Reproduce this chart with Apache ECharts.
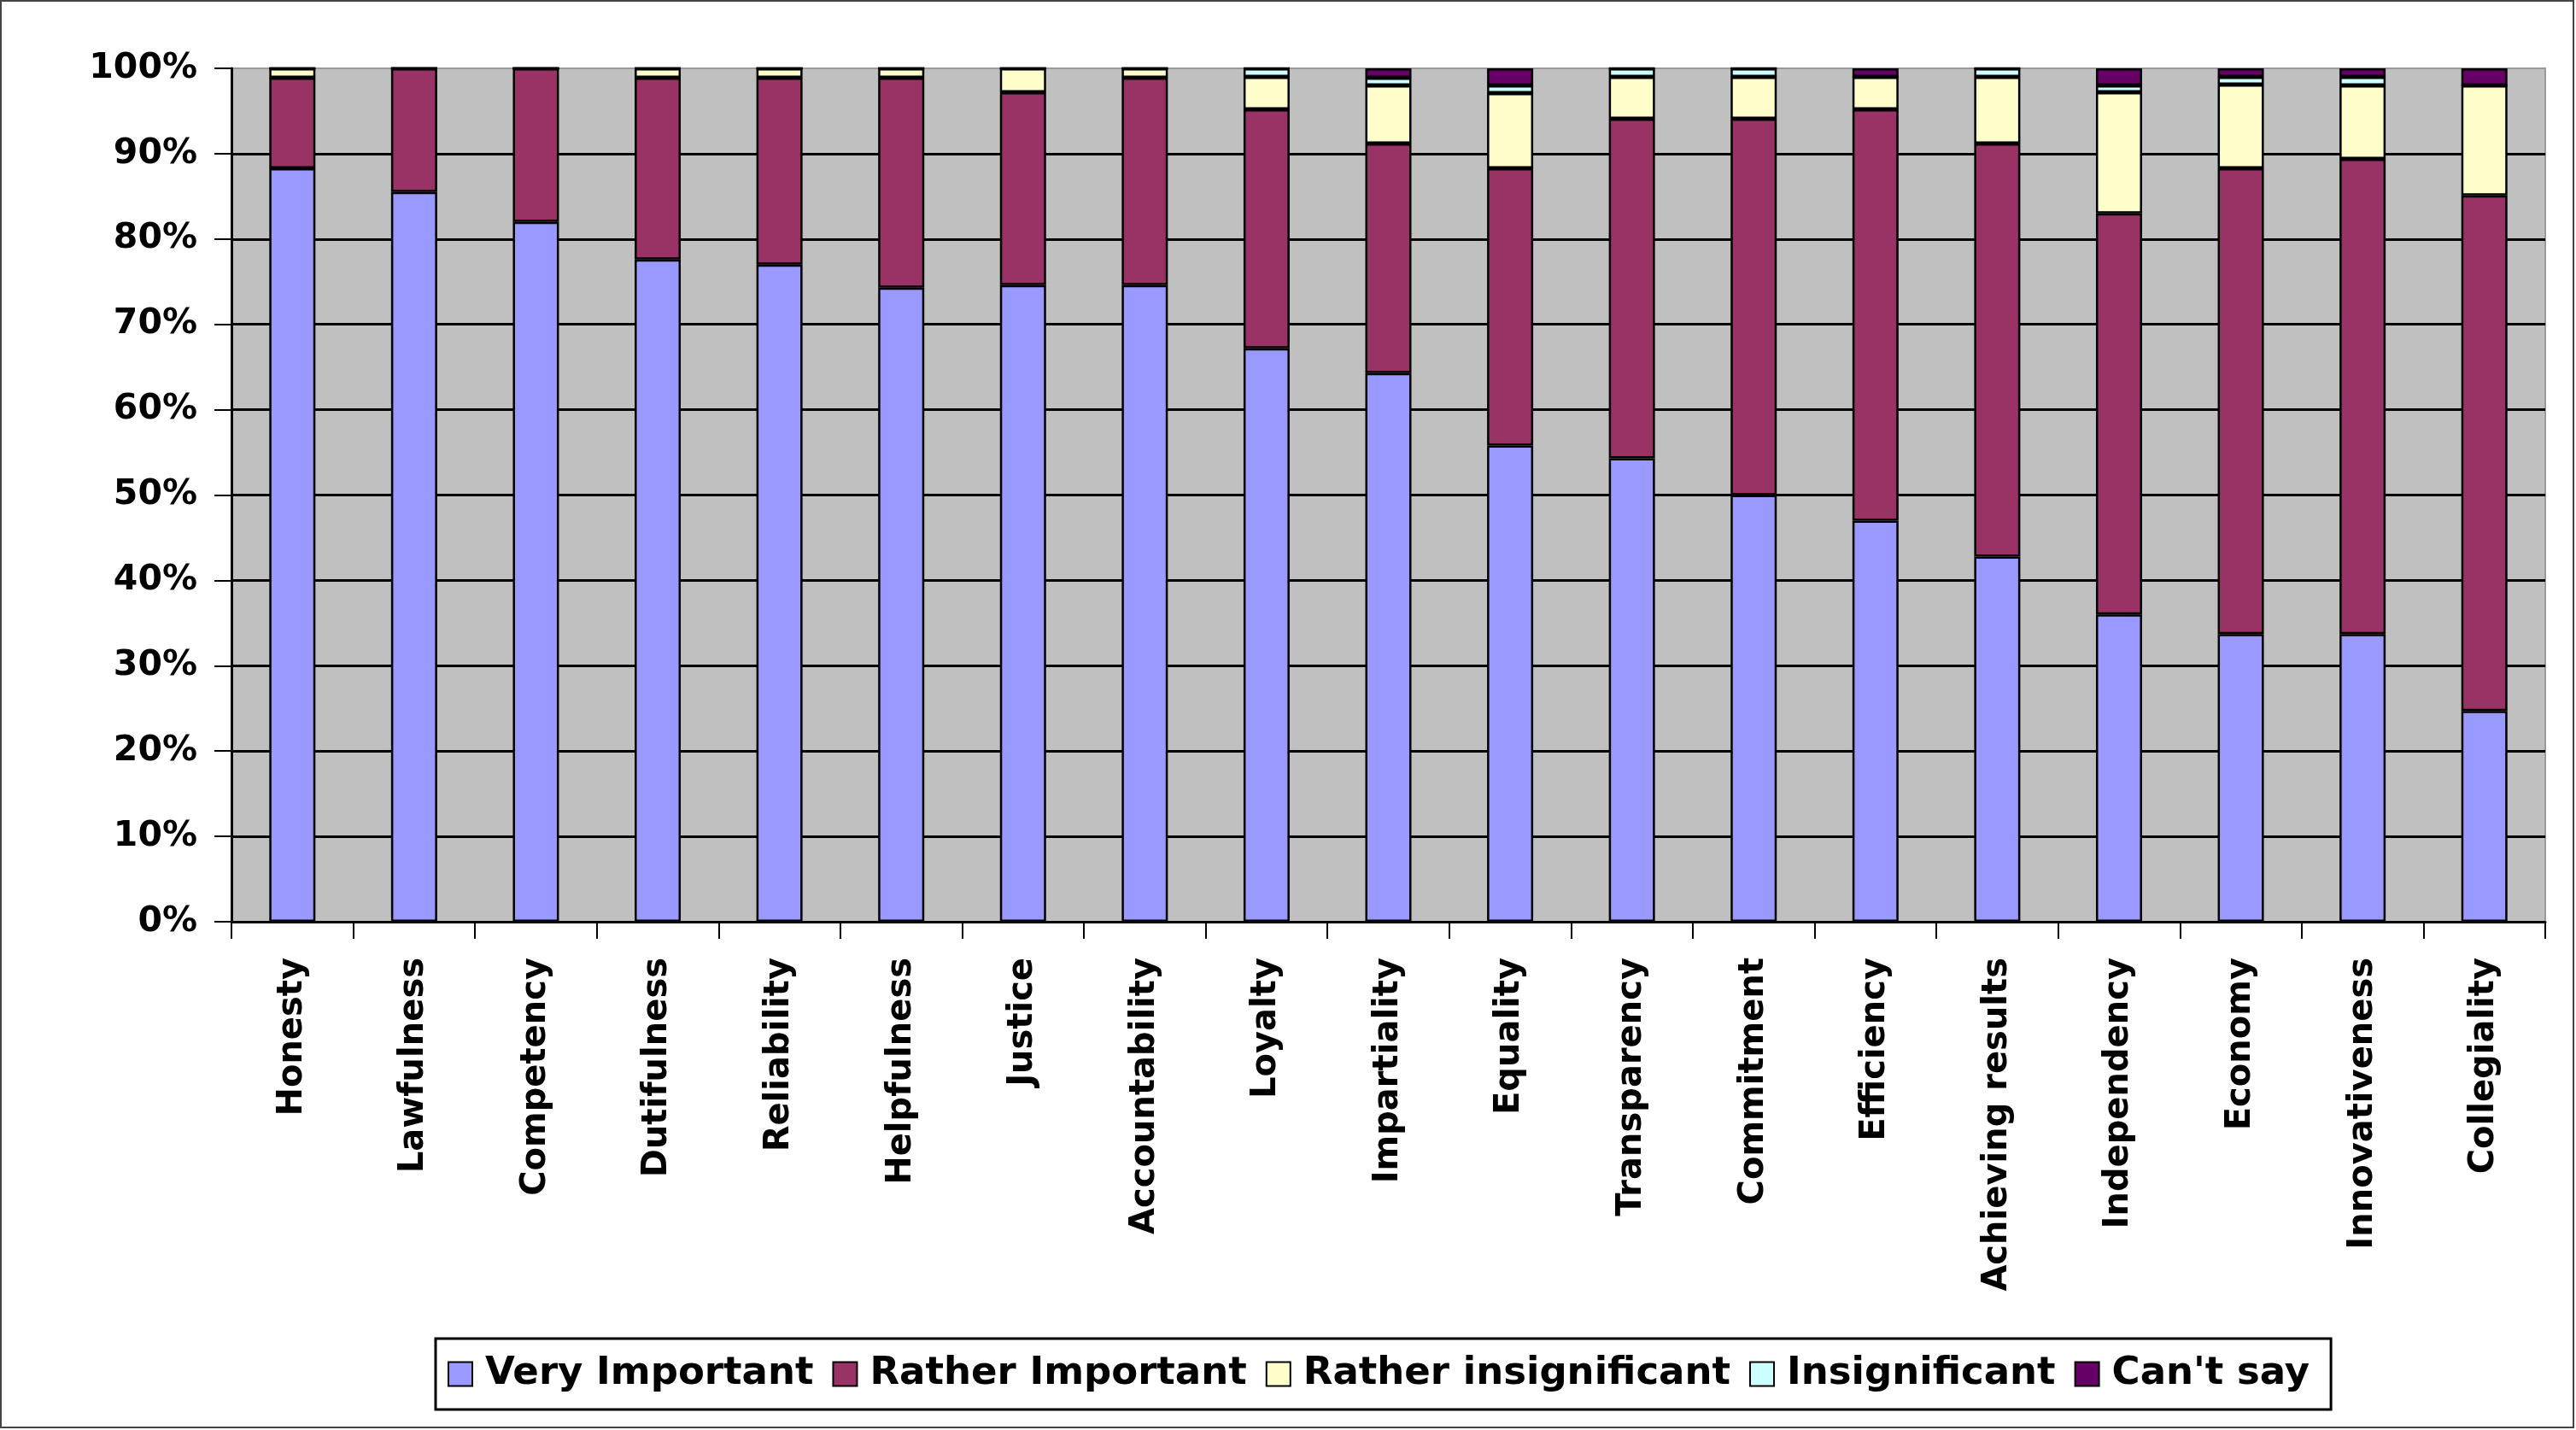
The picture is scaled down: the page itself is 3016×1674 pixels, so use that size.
<!DOCTYPE html>
<html>
<head>
<meta charset="utf-8">
<title>Values</title>
<script src="https://cdn.jsdelivr.net/npm/echarts@6/dist/echarts.min.js"></script>
<style>
  html, body { margin: 0; padding: 0; background: #fff; }
  #chart { width: 3016px; height: 1674px; }
</style>
</head>
<body>
<div id="chart"></div>
<script>
// categories along the x axis
var categories = ['Honesty', 'Lawfulness', 'Competency', 'Dutifulness', 'Reliability', 'Helpfulness',
  'Justice', 'Accountability', 'Loyalty', 'Impartiality', 'Equality', 'Transparency', 'Commitment',
  'Efficiency', 'Achieving results', 'Independency', 'Economy', 'Innovativeness', 'Collegiality'];

// shares in %
var veryImportant       = [88.3, 85.5, 82.0, 77.6, 77.0, 74.3, 74.6, 74.6, 67.2, 64.3, 55.8, 54.3, 50.0, 47.0, 42.8, 36.0, 33.7, 33.7, 24.7];
var ratherImportant     = [10.6, 14.5, 18.0, 21.3, 21.9, 24.6, 22.6, 24.3, 28.0, 26.9, 32.5, 39.8, 44.1, 48.2, 48.4, 47.0, 54.6, 55.7, 60.4];
var ratherInsignificant = [1.1, 0, 0, 1.1, 1.1, 1.1, 2.8, 1.1, 3.8, 6.8, 8.8, 4.9, 4.9, 3.8, 7.8, 14.2, 9.8, 8.6, 12.9];
var insignificant       = [0, 0, 0, 0, 0, 0, 0, 0, 1.0, 0.9, 0.9, 1.0, 1.0, 0, 1.0, 0.8, 0.9, 1.0, 0];
var cantSay             = [0, 0, 0, 0, 0, 0, 0, 0, 0, 1.1, 2.0, 0, 0, 1.0, 0, 2.0, 1.0, 1.0, 2.0];

var seriesNames = ['Very Important', 'Rather Important', 'Rather insignificant', 'Insignificant', "Can't say"];
var seriesColors = ['#9999FF', '#993366', '#FFFFCC', '#CCFFFF', '#660066'];
var seriesData = [veryImportant, ratherImportant, ratherInsignificant, insignificant, cantSay];

var font = 'DejaVu Sans';

var chart = echarts.init(document.getElementById('chart'));

var series = seriesNames.map(function (name, i) {
  return {
    name: name,
    type: 'bar',
    stack: 'total',
    barWidth: 54,
    itemStyle: {
      color: seriesColors[i],
      borderColor: '#000',
      borderWidth: 2.5
    },
    data: seriesData[i]
  };
});

var option = {
  animation: false,
  backgroundColor: '#fff',
  graphic: [{
    type: 'rect',
    shape: { x: 1, y: 1, width: 3012, height: 1670 },
    style: { fill: 'none', stroke: '#444', lineWidth: 2 },
    z: 100
  }],
  grid: {
    left: 271,
    right: 36,
    top: 80,
    bottom: 595,
    show: true,
    backgroundColor: '#C0C0C0',
    borderColor: '#9a9a9a',
    borderWidth: 2
  },
  legend: {
    left: 510,
    top: 1567,
    orient: 'horizontal',
    icon: 'rect',
    itemWidth: 28,
    itemHeight: 28,
    itemGap: 22,
    padding: [19, 25, 19, 14],
    borderColor: '#000',
    borderWidth: 3,
    backgroundColor: '#fff',
    itemStyle: { borderColor: '#000', borderWidth: 2 },
    textStyle: {
      fontFamily: font,
      fontWeight: 'bold',
      fontSize: 45,
      color: '#000',
      padding: [0, 0, 0, 10]
    },
    data: seriesNames
  },
  xAxis: {
    type: 'category',
    data: categories,
    axisLine: { show: true, lineStyle: { color: '#000', width: 3 } },
    axisTick: { show: true, length: 20, lineStyle: { color: '#000', width: 2 } },
    axisLabel: {
      rotate: 90,
      margin: 42,
      fontFamily: font,
      fontWeight: 'bold',
      fontSize: 40,
      color: '#000'
    }
  },
  yAxis: {
    type: 'value',
    min: 0,
    max: 100,
    interval: 10,
    axisLine: { show: true, lineStyle: { color: '#000', width: 3 } },
    axisTick: { show: true, length: 20, lineStyle: { color: '#000', width: 2 } },
    splitLine: { show: true, showMaxLine: false, lineStyle: { color: '#000', width: 3 } },
    axisLabel: {
      formatter: '{value}%',
      margin: 40,
      fontFamily: font,
      fontWeight: 'bold',
      fontSize: 41,
      color: '#000'
    }
  },
  series: series
};

chart.setOption(option);
</script>
</body>
</html>
